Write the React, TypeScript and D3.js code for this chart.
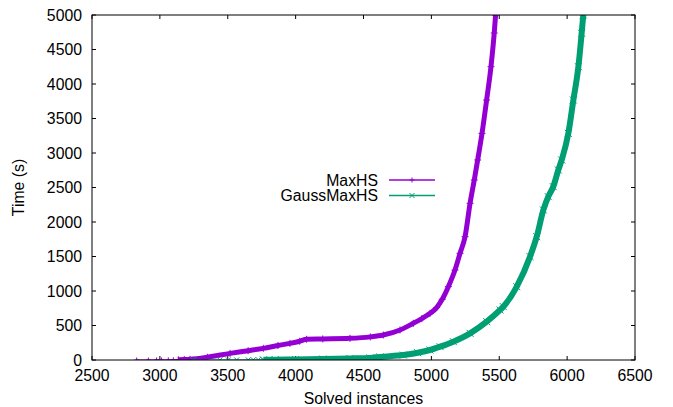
import React, { useEffect, useRef } from "react"
import * as d3 from "d3"

// [solved instances, time in s]
const maxhsTail: [number, number][] = [
  [2829, 0], [2915, 0], [2976, 1], [3013, 1], [3062, 2], [3099, 3], [3136, 4],
]
const maxhsBody: [number, number][] = [
  [3136, 4], [3180, 6], [3222, 10], [3350, 40], [3517, 96], [3650, 135], [3762, 169],
  [3870, 210], [3958, 241], [4030, 272], [4081, 300], [4200, 305], [4400, 314],
  [4550, 335], [4646, 362], [4769, 435], [4867, 532], [4930, 600], [4990, 676],
  [5039, 760], [5080, 880], [5125, 1063], [5174, 1304], [5211, 1546], [5248, 1787],
  [5285, 2271], [5316, 2609], [5341, 2899], [5373, 3285], [5407, 3768], [5439, 4251],
  [5463, 4739], [5473, 5000],
]
const gaussTail: [number, number][] = [
  [3246, 0], [3442, 0], [3504, 1], [3566, 1], [3651, 2], [3688, 2], [3725, 3], [3762, 3],
]
const gaussBody: [number, number][] = [
  [3762, 3], [3850, 5], [4000, 8], [4200, 14], [4400, 22], [4548, 30], [4621, 45],
  [4793, 72], [4900, 105], [4990, 145], [5064, 193], [5162, 266], [5285, 386],
  [5408, 555], [5506, 725], [5530, 773], [5629, 1063], [5727, 1498], [5776, 1787],
  [5825, 2174], [5861, 2367], [5898, 2512], [5935, 2754], [5960, 2899], [6009, 3285],
  [6046, 3768], [6083, 4251], [6107, 4735], [6119, 5000],
]

const xTicks = [2500, 3000, 3500, 4000, 4500, 5000, 5500, 6000, 6500]
const yTicks = [0, 500, 1000, 1500, 2000, 2500, 3000, 3500, 4000, 4500, 5000]

const series = [
  { name: "MaxHS", color: "#9400d3", tail: maxhsTail, body: maxhsBody, band: 5, mark: "plus" },
  { name: "GaussMaxHS", color: "#009e73", tail: gaussTail, body: gaussBody, band: 6, mark: "cross" },
]

const App = () => {
  const ref = useRef<SVGGElement>(null)

  useEffect(() => {
    const g = d3.select(ref.current)
    g.selectAll("*").remove()

    const margin = { top: 15, left: 92 }
    const innerWidth = 543
    const innerHeight = 345
    const font = "'Liberation Sans', Arial, sans-serif"
    const fontSize = 15.8

    const xScale = d3.scaleLinear().domain([2500, 6500]).range([0, innerWidth])
    const yScale = d3.scaleLinear().domain([0, 5000]).range([innerHeight, 0])

    const plot = g.append("g").attr("transform", `translate(${margin.left}, ${margin.top})`)

    plot.append("clipPath").attr("id", "clip")
      .append("rect").attr("width", innerWidth).attr("height", innerHeight)

    // ticks, inward and mirrored
    const tickLen = 4
    xTicks.forEach(t => {
      const x = xScale(t)
      plot.append("line").attr("x1", x).attr("x2", x).attr("y1", innerHeight).attr("y2", innerHeight - tickLen).attr("stroke", "black")
      plot.append("line").attr("x1", x).attr("x2", x).attr("y1", 0).attr("y2", tickLen).attr("stroke", "black")
      plot.append("text")
        .attr("x", x).attr("y", innerHeight + 21)
        .attr("text-anchor", "middle")
        .attr("font-family", font).attr("font-size", fontSize)
        .text(t)
    })
    yTicks.forEach(t => {
      const y = yScale(t)
      plot.append("line").attr("x1", 0).attr("x2", tickLen).attr("y1", y).attr("y2", y).attr("stroke", "black")
      plot.append("line").attr("x1", innerWidth).attr("x2", innerWidth - tickLen).attr("y1", y).attr("y2", y).attr("stroke", "black")
      plot.append("text")
        .attr("x", -10).attr("y", y)
        .attr("dy", "0.36em")
        .attr("text-anchor", "end")
        .attr("font-family", font).attr("font-size", fontSize)
        .text(t)
    })

    const line = d3.line<[number, number]>()
      .x(d => xScale(d[0]))
      .y(d => yScale(d[1]))
      .curve(d3.curveMonotoneX)

    const marker = (sel: any, kind: string, x: number, y: number, color: string, s = 2.5) => {
      if (kind === "plus") {
        sel.append("path").attr("d", `M${x - s},${y}H${x + s}M${x},${y - s}V${y + s}`)
          .attr("stroke", color).attr("stroke-width", 1).attr("fill", "none")
      } else {
        sel.append("path").attr("d", `M${x - s},${y - s}L${x + s},${y + s}M${x - s},${y + s}L${x + s},${y - s}`)
          .attr("stroke", color).attr("stroke-width", 1).attr("fill", "none")
      }
    }

    const curves = plot.append("g").attr("clip-path", "url(#clip)")
    series.forEach(s => {
      curves.append("path").datum(s.tail)
        .attr("d", line).attr("fill", "none").attr("stroke", s.color).attr("stroke-width", 1)
      curves.append("path").datum(s.body)
        .attr("d", line).attr("fill", "none").attr("stroke", s.color)
        .attr("stroke-width", s.band).attr("stroke-linejoin", "round")
      s.tail.forEach(d => marker(curves, s.mark, xScale(d[0]), yScale(d[1]), s.color))
      s.body.forEach(d => marker(curves, s.mark, xScale(d[0]), yScale(d[1]), s.color, 3.5))
    })

    // frame
    plot.append("rect")
      .attr("width", innerWidth).attr("height", innerHeight)
      .attr("fill", "none").attr("stroke", "black")

    // legend
    series.forEach((s, i) => {
      const ly = 180 + i * 15.5
      g.append("text")
        .attr("x", 378).attr("y", ly).attr("dy", "0.36em")
        .attr("text-anchor", "end")
        .attr("font-family", font).attr("font-size", fontSize)
        .text(s.name)
      g.append("line")
        .attr("x1", 389).attr("x2", 435).attr("y1", ly).attr("y2", ly)
        .attr("stroke", s.color).attr("stroke-width", 1.3)
      marker(g, s.mark, 412, ly, s.color, 2.5)
    })

    // axis labels
    g.append("text")
      .attr("transform", `translate(24, ${margin.top + innerHeight / 2}) rotate(-90)`)
      .attr("text-anchor", "middle")
      .attr("font-family", font).attr("font-size", fontSize)
      .text("Time (s)")
    g.append("text")
      .attr("x", margin.left + innerWidth / 2).attr("y", 404)
      .attr("text-anchor", "middle")
      .attr("font-family", font).attr("font-size", fontSize)
      .text("Solved instances")
  }, [])

  return (
    <div>
      <svg width={673} height={407} style={{ position: "absolute", left: 0, top: 0, background: "white" }}>
        <g ref={ref} />
      </svg>
    </div>
  )
}

export default App
